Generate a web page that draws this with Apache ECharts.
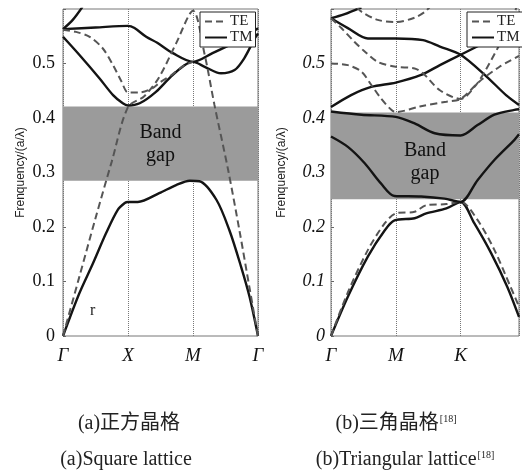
<!DOCTYPE html>
<html>
<head>
<meta charset="utf-8">
<script src="https://cdn.jsdelivr.net/npm/echarts@6/dist/echarts.min.js"></script>
<style>html,body{margin:0;padding:0;background:#fff;}#c{width:522px;height:472px;}</style>
</head>
<body>
<div id="c"></div>
<script>
// ---------- data ----------
const sqXLabels = ['Γ', 'X', 'M', 'Γ'];
const trXLabels = ['Γ', 'M', 'K'];
const yTickLabels = ['0', '0.1', '0.2', '0.3', '0.4', '0.5', ''];
const yName = 'Frenquency/(a/λ)';
const sqGap = [0.285, 0.421];
const trGap = [0.251, 0.410];

// square lattice (Γ=0, X=1, M=2, Γ=3)
const sqTM1 = [[0,0],[0.25,0.078],[0.46,0.133],[0.66,0.188],[0.84,0.231],[0.95,0.244],[1.0,0.246],[1.15,0.246],[1.48,0.262],[1.74,0.277],[1.95,0.285],[2.1,0.284],[2.36,0.25],[2.56,0.194],[2.74,0.127],[2.87,0.072],[3,0]];
const sqTM2 = [[0,0.549],[0.25,0.516],[0.56,0.473],[0.77,0.442],[0.92,0.427],[1.0,0.423],[1.18,0.427],[1.43,0.448],[1.66,0.476],[1.87,0.497],[2.0,0.503],[2.18,0.494],[2.43,0.482],[2.64,0.488],[2.79,0.51],[2.95,0.546],[3,0.555]];
const sqTM3 = [[0,0.563],[0.5,0.566],[1.0,0.569],[1.1,0.565],[1.28,0.549],[1.45,0.538],[1.69,0.519],[2.0,0.503],[2.3,0.519],[2.61,0.537],[2.92,0.558],[3,0.565]];
const sqTM4 = [[0,0.563],[0.15,0.58],[0.3,0.604]];
const sqTE1 = [[0,0],[0.25,0.108],[0.5,0.216],[0.75,0.32],[1.0,0.42],[1.25,0.44],[1.48,0.475],[1.74,0.537],[2.0,0.597],[2.18,0.516],[2.33,0.424],[2.54,0.305],[2.72,0.19],[2.87,0.088],[3,0]];
const sqTE2 = [[0,0.562],[0.2,0.558],[0.41,0.549],[0.61,0.528],[0.77,0.497],[0.9,0.467],[1.0,0.447],[1.18,0.447],[1.38,0.455],[1.5,0.466],[1.66,0.478],[1.87,0.497],[2.0,0.503]];

// triangular lattice (Γ=0, M=1, K=2)
const trTM1 = [[0,0],[0.26,0.072],[0.57,0.146],[0.83,0.194],[0.98,0.212],[1.29,0.216],[1.47,0.225],[1.78,0.234],[2.0,0.246],[2.21,0.207],[2.47,0.152],[2.72,0.09],[2.9,0.035]];
const trTE1 = [[0,0],[0.26,0.08],[0.57,0.158],[0.83,0.207],[1.0,0.225],[1.29,0.228],[1.47,0.24],[1.78,0.242],[2.0,0.246],[2.26,0.213],[2.52,0.158],[2.77,0.09],[2.9,0.054]];
const trTM2 = [[0,0.366],[0.26,0.347],[0.52,0.317],[0.77,0.28],[0.98,0.257],[1.39,0.256],[1.75,0.252],[2.0,0.246],[2.26,0.286],[2.52,0.323],[2.83,0.36],[2.9,0.37]];
const trTM3 = [[0,0.412],[0.47,0.406],[1.0,0.402],[1.29,0.39],[1.6,0.372],[2.0,0.368],[2.26,0.387],[2.52,0.406],[2.83,0.415],[2.9,0.416]];
const trTM4 = [[0,0.42],[0.31,0.442],[0.62,0.457],[1.0,0.465],[1.39,0.479],[1.68,0.497],[2.0,0.516],[2.4,0.54],[2.9,0.57]];
const trTM5 = [[0,0.583],[0.26,0.565],[0.57,0.546],[1.0,0.546],[1.42,0.543],[1.68,0.531],[2.0,0.516],[2.4,0.476],[2.7,0.442],[2.9,0.424]];
const trTM6 = [[0,0.583],[0.2,0.59],[0.47,0.603]];
const trTEa = [[0,0.583],[0.16,0.565],[0.36,0.54],[0.52,0.522],[0.72,0.503],[1.0,0.494],[1.29,0.491],[1.42,0.482],[1.68,0.451],[2.0,0.435],[2.24,0.461],[2.4,0.491],[2.65,0.546],[2.78,0.577],[2.86,0.603]];
const trTEb = [[0,0.5],[0.26,0.497],[0.47,0.485],[0.62,0.461],[0.77,0.436],[0.93,0.415],[1.0,0.411],[1.37,0.421],[1.78,0.43],[2.0,0.435],[2.29,0.467],[2.6,0.494],[2.9,0.514]];
const trTEtop = [[0.4,0.603],[0.47,0.595],[0.72,0.58],[1.0,0.576],[1.29,0.584],[1.44,0.594],[1.52,0.603]];

// ---------- styles ----------
const SERIF = '"Liberation Serif","DejaVu Serif",serif';
const solid = {color:'#141414', width:2.4, type:'solid'};
const dashed = {color:'#555', width:2, type:[7,4]};

function band(data, kind, gi, extra) {
  return Object.assign({
    type:'line', name:kind, xAxisIndex:gi, yAxisIndex:gi, data:data,
    symbol:'none', showSymbol:false, smooth:0.3, clip:true, z:3,
    lineStyle: kind === 'TM' ? solid : dashed,
    itemStyle: {color: kind === 'TM' ? solid.color : dashed.color},
    silent:true
  }, extra || {});
}
function gapArea(gap, offsetY) {
  return {
    silent:true,
    itemStyle:{color:'#9b9b9b'},
    label:{show:true, position:'inside', formatter:'Band\ngap', fontFamily:SERIF, fontSize:20, lineHeight:23, color:'#111', offset:[0,offsetY]},
    data:[[{yAxis:gap[0]},{yAxis:gap[1]}]]
  };
}
function xAxis(gi, max, labels) {
  return {
    type:'value', gridIndex:gi, min:0, max:max, interval:1,
    axisLine:{show:false}, axisTick:{show:false},
    splitLine:{show:true, lineStyle:{color:'#777', type:'dotted', width:1}},
    axisLabel:{margin:10, fontFamily:SERIF, fontStyle:'italic', fontSize:19, color:'#111',
      formatter:function(v){ const i = Math.round(v); return Math.abs(v - i) < 1e-6 && labels[i] !== undefined ? labels[i] : ''; }}
  };
}
function yAxis(gi, gap, italic) {
  return {
    type:'value', gridIndex:gi, min:0, max:0.6, interval:0.1,
    name:yName, nameLocation:'middle', nameRotate:90, nameGap:gap,
    nameTextStyle:{fontFamily:'"Liberation Sans","Noto Sans CJK SC",sans-serif', fontSize:12, color:'#222'},
    axisLine:{show:false},
    axisTick:{show:true, inside:true, length:3, lineStyle:{color:'#666'}},
    splitLine:{show:false},
    axisLabel:{margin:italic ? 6 : 8, fontFamily:SERIF, fontStyle: italic ? 'italic' : 'normal', fontSize:18, color:'#111',
      formatter:function(v){ return yTickLabels[Math.round(v * 10)]; }}
  };
}
function legend(left) {
  return {
    data:['TE','TM'], left:left, top:12, orient:'vertical', selectedMode:false,
    itemWidth:22, itemHeight:10, itemGap:1, padding:[2,3,2,4],
    itemStyle:{opacity:0, color:'rgba(0,0,0,0)', borderWidth:0},
    backgroundColor:'#fff', borderColor:'#222', borderWidth:1, borderRadius:0,
    textStyle:{fontFamily:SERIF, fontSize:15, color:'#222', padding:[0,0,0,-2]}
  };
}

const chart = echarts.init(document.getElementById('c'), null, {renderer:'canvas'});
chart.setOption({
  animation:false,
  backgroundColor:'#fff',
  grid:[
    {left:63, top:9, width:195, height:327, show:true, borderColor:'#777', borderWidth:1, backgroundColor:'transparent'},
    {left:331, top:9, width:189, height:327, show:true, borderColor:'#777', borderWidth:1, backgroundColor:'transparent'}
  ],
  xAxis:[xAxis(0, 3, sqXLabels), xAxis(1, 2.9, trXLabels)],
  yAxis:[yAxis(0, 36, false), yAxis(1, 43, true)],
  legend:[legend(200), legend(467)],
  series:[
    band(sqTM1, 'TM', 0, {markArea: gapArea(sqGap, 1)}),
    band(sqTM2, 'TM', 0),
    band(sqTM3, 'TM', 0),
    band(sqTM4, 'TM', 0),
    band(sqTE1, 'TE', 0),
    band(sqTE2, 'TE', 0),
    band(trTM1, 'TM', 1, {markArea: gapArea(trGap, 6)}),
    band(trTE1, 'TE', 1),
    band(trTM2, 'TM', 1),
    band(trTM3, 'TM', 1),
    band(trTM4, 'TM', 1),
    band(trTM5, 'TM', 1),
    band(trTM6, 'TM', 1),
    band(trTEa, 'TE', 1),
    band(trTEb, 'TE', 1),
    band(trTEtop, 'TE', 1)
  ],
  graphic:[
    {type:'text', left:90, top:303, silent:true, style:{text:'r', font:'16px ' + SERIF, fill:'#222'}},
    {type:'text', x:129, y:424, silent:true, style:{text:'(a)正方晶格', font:'20px "Liberation Serif","Noto Sans CJK SC",serif', fill:'#222', align:'center', verticalAlign:'middle'}},
    {type:'text', x:126, y:460, silent:true, style:{text:'(a)Square lattice', font:'20px "Liberation Serif",serif', fill:'#222', align:'center', verticalAlign:'middle'}},
    {type:'text', x:396, y:424, silent:true, style:{text:'(b)三角晶格{s|[18]}', font:'20px "Liberation Serif","Noto Sans CJK SC",serif', fill:'#222', align:'center', verticalAlign:'middle',
      rich:{s:{fontSize:10, fontFamily:'Liberation Serif', verticalAlign:'top', padding:[0,0,10,1], fill:'#222'}}}},
    {type:'text', x:405, y:460, silent:true, style:{text:'(b)Triangular lattice{s|[18]}', font:'20px "Liberation Serif",serif', fill:'#222', align:'center', verticalAlign:'middle',
      rich:{s:{fontSize:10, fontFamily:'Liberation Serif', verticalAlign:'top', padding:[0,0,10,1], fill:'#222'}}}}
  ]
});
</script>
</body>
</html>
